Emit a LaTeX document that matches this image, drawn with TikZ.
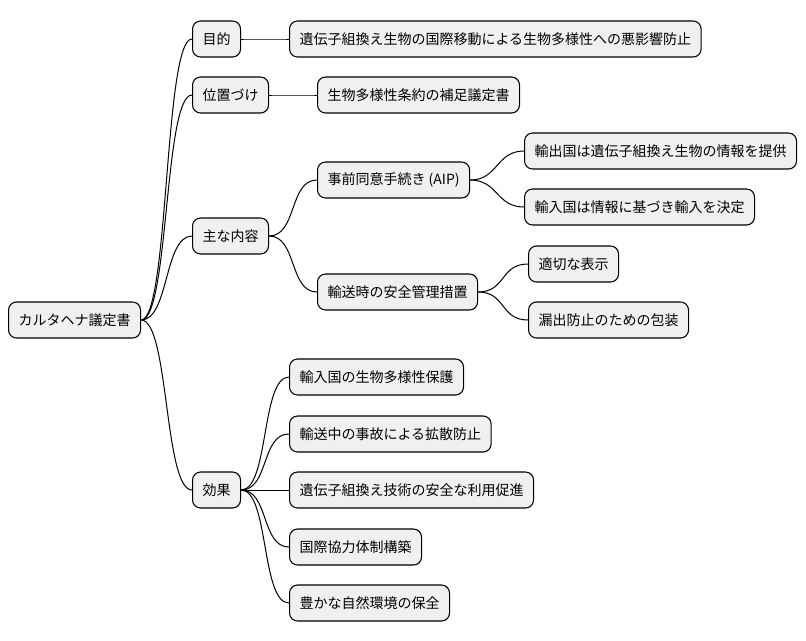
\documentclass[tikz,border=0pt]{standalone}
\usepackage{fontspec}
\setmainfont{Noto Sans CJK JP}
\begin{document}
\begin{tikzpicture}[x=0.75pt,y=-0.75pt,
  box/.style={draw=black,line width=0.8pt,rounded corners=6pt,fill=black!6,anchor=west,
    minimum height=27pt,inner xsep=7.5pt,font=\fontsize{10.5pt}{12pt}\selectfont},
  link/.style={draw=black,line width=0.75pt}]
\useasboundingbox (0,0) rectangle (806,640);
\node[box] (r) at (8,320) {カルタヘナ議定書};
\node[box] (a) at (192,39) {目的};
\node[box] (a1) at (289,39) {遺伝子組換え生物の国際移動による生物多様性への悪影響防止};
\node[box] (b) at (192,95) {位置づけ};
\node[box] (b1) at (317,95) {生物多様性条約の補足議定書};
\node[box] (c) at (192,236) {主な内容};
\node[box] (c1) at (317,180) {事前同意手続き (AIP)};
\node[box] (c11) at (524,151) {輸出国は遺伝子組換え生物の情報を提供};
\node[box] (c12) at (524,207) {輸入国は情報に基づき輸入を決定};
\node[box] (c2) at (317,292) {輸送時の安全管理措置};
\node[box] (c21) at (528,264) {適切な表示};
\node[box] (c22) at (528,320) {漏出防止のための包装};
\node[box] (d) at (192,490) {効果};
\node[box] (d1) at (289,377) {輸入国の生物多様性保護};
\node[box] (d2) at (289,434) {輸送中の事故による拡散防止};
\node[box] (d3) at (289,490) {遺伝子組換え技術の安全な利用促進};
\node[box] (d4) at (289,547) {国際協力体制構築};
\node[box] (d5) at (289,603) {豊かな自然環境の保全};
\foreach \p/\c in {r/a,r/b,r/c,r/d,a/a1,b/b1,c/c1,c/c2,c1/c11,c1/c12,c2/c21,c2/c22,d/d1,d/d2,d/d3,d/d4,d/d5}
  \draw[link] (\p.east) .. controls +(28,0) and +(-28,0) .. (\c.west);
\end{tikzpicture}
\end{document}
